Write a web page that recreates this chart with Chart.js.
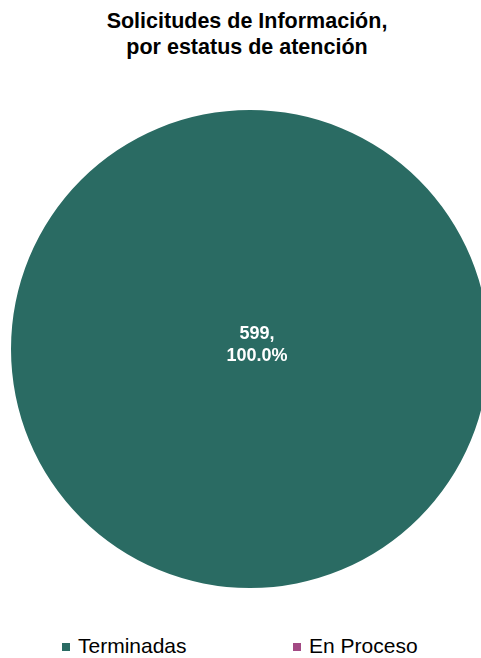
<!DOCTYPE html>
<html>
<head>
<meta charset="utf-8">
<script src="https://cdn.jsdelivr.net/npm/chart.js@4"></script>
<style>
    html, body { margin: 0; padding: 0; width: 481px; height: 658px; overflow: hidden; background: #fff; font-family: "Liberation Sans", Arial, sans-serif; }
    #title { position: absolute; left: 0; top: 8px; width: 494px; text-align: center; font-weight: bold; font-size: 21.5px; line-height: 26px; color: #000; }
    #pieBox { position: absolute; left: 11px; top: 110px; width: 478px; height: 478px; }
    #legend { position: absolute; left: 62px; top: 636px; display: flex; font-size: 21px; line-height: 20px; color: #000; }
    #legend .item { width: 231px; display: flex; align-items: center; }
    #legend .box { width: 8px; height: 8px; margin-right: 8px; margin-top: 2px; }
</style>
</head>
<body>
<div id="title">Solicitudes de Información,<br>por estatus de atención</div>
<div id="pieBox"><canvas id="statusChart"></canvas></div>
<div id="legend"></div>

<script>
// data
var categories = ['Terminadas', 'En Proceso'];
var requestCounts = [599, 0];
var sliceColors = ['#2a6b63', '#a34a84'];

// legend built from the same arrays
var legendEl = document.getElementById('legend');
categories.forEach(function (name, i) {
    var item = document.createElement('div');
    item.className = 'item';
    item.innerHTML = '<span class="box" style="background:' + sliceColors[i] + '"></span>' + name;
    legendEl.appendChild(item);
});

var total = requestCounts.reduce(function (a, b) { return a + b; }, 0);

// value + percent label inside each non-empty slice
var sliceLabels = {
    id: 'sliceLabels',
    afterDatasetsDraw: function (chart) {
        var ctx = chart.ctx;
        var meta = chart.getDatasetMeta(0);
        ctx.save();
        ctx.fillStyle = '#fff';
        ctx.font = 'bold 18px "Liberation Sans", Arial, sans-serif';
        ctx.textAlign = 'center';
        ctx.textBaseline = 'middle';
        meta.data.forEach(function (arc, i) {
            var v = requestCounts[i];
            if (!v) return;
            var pct = (v / total * 100).toFixed(1) + '%';
            var x, y;
            if (v === total) {
                x = arc.x + 7;
                y = arc.y - 4;
            } else {
                var p = arc.tooltipPosition();
                x = p.x;
                y = p.y;
            }
            ctx.fillText(v + ',', x, y - 11);
            ctx.fillText(pct, x, y + 11);
        });
        ctx.restore();
    }
};

var ctx = document.getElementById('statusChart').getContext('2d');
var statusChart = new Chart(ctx, {
    type: 'pie',
    data: {
        labels: categories,
        datasets: [{
            data: requestCounts,
            backgroundColor: sliceColors,
            borderWidth: 0
        }]
    },
    options: {
        responsive: true,
        maintainAspectRatio: false,
        animation: false,
        layout: { padding: 0 },
        plugins: {
            legend: { display: false },
            tooltip: { enabled: false }
        }
    },
    plugins: [sliceLabels]
});
</script>
</body>
</html>
